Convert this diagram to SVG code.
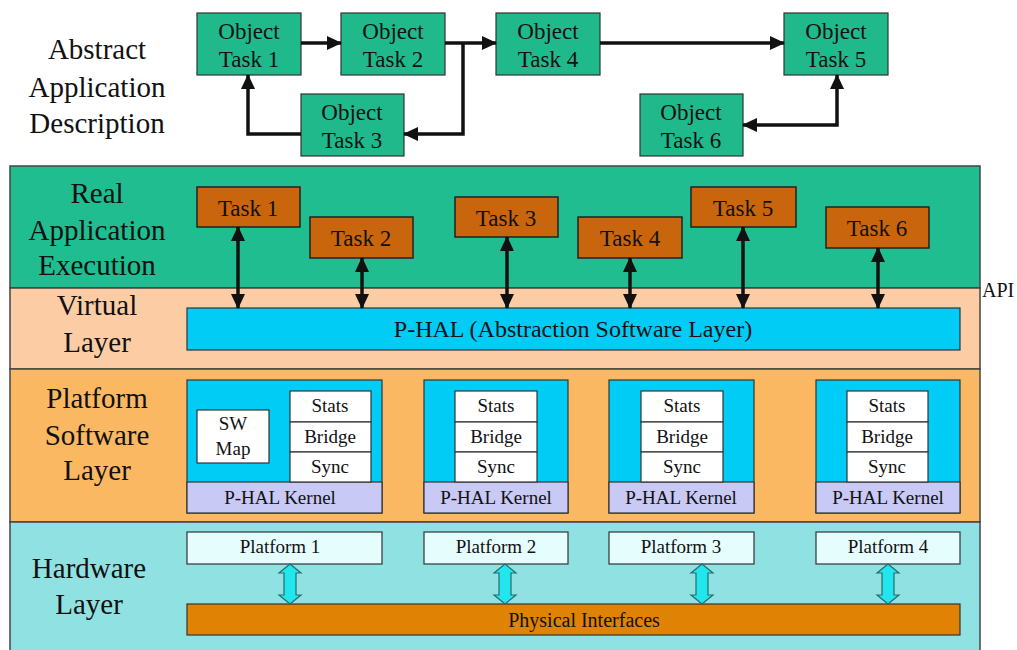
<svg xmlns="http://www.w3.org/2000/svg" width="1017" height="650" viewBox="0 0 1017 650">
<defs>
<style>
.t{font-family:"Liberation Serif","Times New Roman",serif;fill:#111;text-anchor:middle}
.big{font-size:29px}
.obj{fill:#1fb98c;stroke:#333;stroke-width:1.2}
.task{fill:#c9650c;stroke:#222;stroke-width:1.5}
.m{font-size:23px}
.s{font-size:19px}
.p{font-size:19px}
.cy{fill:#00ccf6;stroke:#333;stroke-width:1.2}
.wh{fill:#ffffff;stroke:#333;stroke-width:1.2}
.kn{fill:#c9c9f6;stroke:#333;stroke-width:1.2}
.pl{fill:#e6fdfd;stroke:#333;stroke-width:1.2}
.ln{fill:none;stroke:#111;stroke-width:3.5}
.ba{fill:#22e6ee;stroke:#2a6a6a;stroke-width:1.2}
</style>
<marker id="ah" markerUnits="userSpaceOnUse" markerWidth="16" markerHeight="16" refX="14" refY="8" orient="auto-start-reverse" viewBox="0 0 16 16">
<path d="M0,1 L15,8 L0,15 z" fill="#111"/>
</marker>
</defs>
<rect x="0" y="0" width="1017" height="650" fill="#ffffff"/>

<g id="labels">
<text class="t big" x="97" y="59">Abstract</text>
<text class="t big" x="97" y="97">Application</text>
<text class="t big" x="97" y="133">Description</text>
</g>

<g id="layer-real">
<rect x="10" y="166" width="970" height="122" fill="#1fbd8f" stroke="#444" stroke-width="1.5"/>
<text class="t big" x="97" y="203">Real</text>
<text class="t big" x="97" y="240">Application</text>
<text class="t big" x="97" y="275">Execution</text>
</g>
<g id="layer-virtual">
<rect x="10" y="288" width="970" height="81" fill="#fccda5" stroke="#444" stroke-width="1.5"/>
<text class="t big" x="97" y="315">Virtual</text>
<text class="t big" x="97" y="352">Layer</text>
</g>
<g id="layer-platform">
<rect x="10" y="369" width="970" height="153" fill="#fbb862" stroke="#444" stroke-width="1.5"/>
<text class="t big" x="97" y="408">Platform</text>
<text class="t big" x="97" y="445">Software</text>
<text class="t big" x="97" y="480">Layer</text>
</g>
<g id="layer-hardware">
<rect x="10" y="522" width="970" height="135" fill="#90e2e2" stroke="#444" stroke-width="1.5"/>
<text class="t big" x="89" y="578">Hardware</text>
<text class="t big" x="89" y="614">Layer</text>
</g>
<text class="t" x="982" y="297" style="font-size:20px;text-anchor:start">API</text>

<g id="obj1"><rect class="obj" x="197" y="13" width="104" height="62"/><text class="t m" x="249" y="39">Object</text><text class="t m" x="249" y="67">Task 1</text></g>
<g id="obj2"><rect class="obj" x="341" y="13" width="104" height="62"/><text class="t m" x="393" y="39">Object</text><text class="t m" x="393" y="67">Task 2</text></g>
<g id="obj4"><rect class="obj" x="496" y="13" width="104" height="62"/><text class="t m" x="548" y="39">Object</text><text class="t m" x="548" y="67">Task 4</text></g>
<g id="obj5"><rect class="obj" x="784" y="13" width="104" height="62"/><text class="t m" x="836" y="39">Object</text><text class="t m" x="836" y="67">Task 5</text></g>
<g id="obj3"><rect class="obj" x="301" y="94" width="103" height="62"/><text class="t m" x="352" y="120">Object</text><text class="t m" x="352" y="148">Task 3</text></g>
<g id="obj6"><rect class="obj" x="640" y="94" width="103" height="62"/><text class="t m" x="691" y="120">Object</text><text class="t m" x="691" y="148">Task 6</text></g>

<g id="task1"><rect class="task" x="197" y="187" width="103" height="40"/><text class="t m" x="248" y="216">Task 1</text></g>
<g id="task2"><rect class="task" x="310" y="217" width="103" height="41"/><text class="t m" x="361" y="246">Task 2</text></g>
<g id="task3"><rect class="task" x="455" y="197" width="103" height="40"/><text class="t m" x="506" y="226">Task 3</text></g>
<g id="task4"><rect class="task" x="578" y="217" width="104" height="41"/><text class="t m" x="630" y="246">Task 4</text></g>
<g id="task5"><rect class="task" x="691" y="187" width="105" height="40"/><text class="t m" x="743" y="216">Task 5</text></g>
<g id="task6"><rect class="task" x="826" y="207" width="103" height="41"/><text class="t m" x="877" y="236">Task 6</text></g>

<g id="phal"><rect class="cy" x="187" y="308" width="773" height="42"/><text class="t" x="573" y="337" style="font-size:24px">P-HAL (Abstraction Software Layer)</text></g>

<g id="pf1">
<rect class="cy" x="187" y="380" width="195" height="133"/>
<rect class="kn" x="187" y="482" width="195" height="31"/>
<text class="t s" x="280" y="504">P-HAL Kernel</text>
<rect class="wh" x="197" y="410" width="72" height="53"/>
<text class="t s" x="233" y="430">SW</text><text class="t s" x="233" y="455">Map</text>
<rect class="wh" x="290" y="391" width="81" height="31"/><text class="t s" x="330" y="412">Stats</text>
<rect class="wh" x="290" y="422" width="81" height="30"/><text class="t s" x="330" y="443">Bridge</text>
<rect class="wh" x="290" y="452" width="81" height="30"/><text class="t s" x="330" y="473">Sync</text>
</g>
<g id="pf2">
<rect class="cy" x="424" y="380" width="144" height="133"/>
<rect class="kn" x="424" y="482" width="144" height="31"/>
<text class="t s" x="496" y="504">P-HAL Kernel</text>
<rect class="wh" x="455" y="391" width="82" height="31"/><text class="t s" x="496" y="412">Stats</text>
<rect class="wh" x="455" y="422" width="82" height="30"/><text class="t s" x="496" y="443">Bridge</text>
<rect class="wh" x="455" y="452" width="82" height="30"/><text class="t s" x="496" y="473">Sync</text>
</g>
<g id="pf3">
<rect class="cy" x="609" y="380" width="145" height="133"/>
<rect class="kn" x="609" y="482" width="145" height="31"/>
<text class="t s" x="681" y="504">P-HAL Kernel</text>
<rect class="wh" x="641" y="391" width="82" height="31"/><text class="t s" x="682" y="412">Stats</text>
<rect class="wh" x="641" y="422" width="82" height="30"/><text class="t s" x="682" y="443">Bridge</text>
<rect class="wh" x="641" y="452" width="82" height="30"/><text class="t s" x="682" y="473">Sync</text>
</g>
<g id="pf4">
<rect class="cy" x="816" y="380" width="144" height="133"/>
<rect class="kn" x="816" y="482" width="144" height="31"/>
<text class="t s" x="888" y="504">P-HAL Kernel</text>
<rect class="wh" x="847" y="391" width="81" height="31"/><text class="t s" x="887" y="412">Stats</text>
<rect class="wh" x="847" y="422" width="81" height="30"/><text class="t s" x="887" y="443">Bridge</text>
<rect class="wh" x="847" y="452" width="81" height="30"/><text class="t s" x="887" y="473">Sync</text>
</g>

<g id="hw1"><rect class="pl" x="187" y="532" width="195" height="32"/><text class="t p" x="280" y="553">Platform 1</text></g>
<g id="hw2"><rect class="pl" x="424" y="532" width="144" height="32"/><text class="t p" x="496" y="553">Platform 2</text></g>
<g id="hw3"><rect class="pl" x="609" y="532" width="145" height="32"/><text class="t p" x="681" y="553">Platform 3</text></g>
<g id="hw4"><rect class="pl" x="816" y="532" width="144" height="32"/><text class="t p" x="888" y="553">Platform 4</text></g>
<g id="phys"><rect x="187" y="604" width="773" height="31" fill="#e08204" stroke="#333" stroke-width="1.2"/><text class="t" x="584" y="627" style="font-size:20px">Physical Interfaces</text></g>

<g id="connectors">
<path class="ln" d="M301,43 L341,43" marker-end="url(#ah)"/>
<path class="ln" d="M445,43 L496,43" marker-end="url(#ah)"/>
<path class="ln" d="M463,43 L463,134 L404,134" marker-end="url(#ah)"/>
<path class="ln" d="M301,134 L248,134 L248,75" marker-end="url(#ah)"/>
<path class="ln" d="M600,43 L784,43" marker-end="url(#ah)"/>
<path class="ln" d="M837,75 L837,125 L743,125" marker-start="url(#ah)" marker-end="url(#ah)"/>

<path class="ln" d="M238,227 L238,308" marker-start="url(#ah)" marker-end="url(#ah)"/>
<path class="ln" d="M362,258 L362,308" marker-start="url(#ah)" marker-end="url(#ah)"/>
<path class="ln" d="M507,237 L507,308" marker-start="url(#ah)" marker-end="url(#ah)"/>
<path class="ln" d="M630,258 L630,308" marker-start="url(#ah)" marker-end="url(#ah)"/>
<path class="ln" d="M743,227 L743,308" marker-start="url(#ah)" marker-end="url(#ah)"/>
<path class="ln" d="M878,248 L878,308" marker-start="url(#ah)" marker-end="url(#ah)"/>

<path class="ba" d="M290,564 L301,573 L296,573 L296,595 L301,595 L290,604 L279,595 L284,595 L284,573 L279,573 z"/>
<path class="ba" d="M505,564 L516,573 L511,573 L511,595 L516,595 L505,604 L494,595 L499,595 L499,573 L494,573 z"/>
<path class="ba" d="M702,564 L713,573 L708,573 L708,595 L713,595 L702,604 L691,595 L696,595 L696,573 L691,573 z"/>
<path class="ba" d="M888,564 L899,573 L894,573 L894,595 L899,595 L888,604 L877,595 L882,595 L882,573 L877,573 z"/>
</g>
</svg>
